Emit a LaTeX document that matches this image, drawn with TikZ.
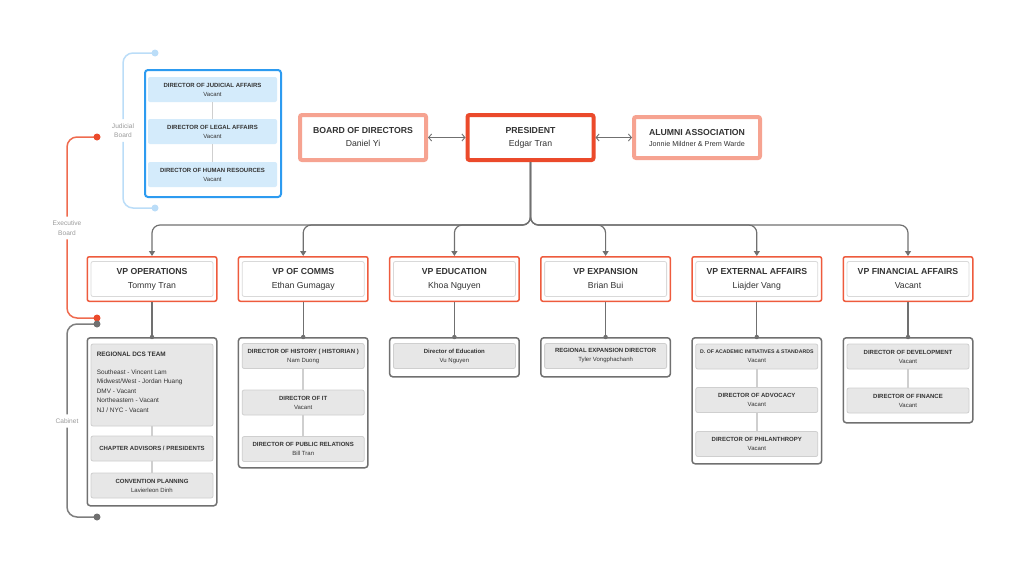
\documentclass[tikz,border=0pt]{standalone}
\usepackage{fontspec}
\setmainfont{Liberation Sans}
\usetikzlibrary{arrows.meta}
\definecolor{presred}{HTML}{EB4A2B}
\definecolor{vpred}{HTML}{EE5B3D}
\definecolor{salmon}{HTML}{F6A391}
\definecolor{jblue}{HTML}{2D9BF0}
\definecolor{jfill}{HTML}{D4EBFB}
\definecolor{jline}{HTML}{BBDDF8}
\definecolor{exred}{HTML}{EF6B4F}
\definecolor{darkline}{HTML}{707070}
\definecolor{boxgray}{HTML}{E7E7E7}
\definecolor{boxedge}{HTML}{CFCFCF}
\definecolor{ink}{HTML}{333333}
\definecolor{labelgray}{HTML}{9A9A9A}
\tikzset{
  every node/.style={text=ink},
  topbox/.style={draw=salmon, line width=4pt, rounded corners=2pt, fill=white,
    minimum width=126pt, minimum height=45pt, align=center,
    font=\fontsize{8.7}{13}\selectfont},
  presbox/.style={topbox, draw=presred},
  vpbox/.style={draw=vpred, line width=1.5pt, rounded corners=2pt, fill=white,
    minimum width=129.5pt, minimum height=44.5pt},
  vpinner/.style={draw=boxedge!80, line width=0.8pt, rounded corners=2pt,
    minimum width=122pt, minimum height=35pt, align=center,
    font=\fontsize{8.7}{14}\selectfont},
  teambox/.style={draw=darkline, line width=1.5pt, rounded corners=3pt, fill=white,
    minimum width=129.5pt, anchor=north},
  teamitem/.style={draw=boxedge, line width=0.8pt, rounded corners=2pt, fill=boxgray,
    minimum width=122pt, minimum height=25pt, align=center, inner sep=1pt,
    font=\fontsize{6}{9}\selectfont},
  jbox/.style={draw=jblue, line width=2pt, rounded corners=3pt, fill=white,
    minimum width=136pt, minimum height=127pt},
  jitem/.style={teamitem, draw=none, fill=jfill, minimum width=129pt},
  innerlink/.style={draw=boxedge, line width=1.5pt},
  trunk/.style={draw=darkline, line width=1.2pt, rounded corners=8pt,
    -{Triangle[width=6pt,length=5pt]}},
  droplink/.style={draw=darkline, line width=1.3pt},
  link/.style={draw=darkline, line width=0.9pt,
    {Straight Barb[length=3pt,width=7pt]}-{Straight Barb[length=3pt,width=7pt]}},
  brk/.style={line width=1.5pt, rounded corners=10pt},
  brklabel/.style={align=center, inner sep=4pt, text=labelgray,
    font=\fontsize{6.6}{9.5}\selectfont}
}
\begin{document}
\begin{tikzpicture}[x=1pt,y=-1pt]
\useasboundingbox (0,0) rectangle (1024,570);

% top row
\node[presbox] (pres) at (530.5,137.5) {\bfseries PRESIDENT\\Edgar Tran};
\node[topbox] (board) at (363,137.5) {\bfseries BOARD OF DIRECTORS\\Daniel Yi};
\node[topbox, minimum height=41pt] (alumni) at (697,137.5)
  {\bfseries ALUMNI ASSOCIATION\\[-2pt]\fontsize{7.2}{9}\selectfont Jonnie Mildner \& Prem Warde};
\draw[link] (board) -- (pres);
\draw[link] (pres) -- (alumni);

% vice presidents
\foreach \n/\x/\t/\p in {vpops/152/VP OPERATIONS/Tommy Tran,
    vpcomms/303.2/VP OF COMMS/Ethan Gumagay,
    vpedu/454.4/VP EDUCATION/Khoa Nguyen,
    vpexp/605.6/VP EXPANSION/Brian Bui,
    vpext/756.8/VP EXTERNAL AFFAIRS/Liajder Vang,
    vpfin/908/VP FINANCIAL AFFAIRS/Vacant}{
  \node[vpbox] (\n) at (\x,279) {};
  \node[vpinner] at (\n) {\textbf{\t}\\\p};
  \draw[trunk] (pres.south) -- ++(0,63) -| (\n.north);
}

% teams
\node[teambox, minimum height=168pt] (tops) at (152,337) {};
\node[teambox, minimum height=130pt] (tcomms) at (303.2,337) {};
\node[teambox, minimum height=39pt] (tedu) at (454.4,337) {};
\node[teambox, minimum height=39pt] (texp) at (605.6,337) {};
\node[teambox, minimum height=126pt] (text) at (756.8,337) {};
\node[teambox, minimum height=85pt] (tfin) at (908,337) {};
\foreach \v/\t in {vpops/tops, vpcomms/tcomms, vpedu/tedu, vpexp/texp, vpext/text, vpfin/tfin}{
  \draw[droplink] (\v) -- (\t.north);
  \fill[darkline] (\t.north) circle (2.2pt);
}

% operations
\node[teamitem, minimum height=82pt] (dcs) at (152,385) {};
\node[anchor=north west, align=left, inner sep=0pt, font=\fontsize{6.4}{9.5}\selectfont]
  (dcstext) at ([shift={(6,8)}]dcs.north west)
  {\textbf{REGIONAL DCS TEAM}\\[8.5pt]
   Southeast - Vincent Lam\\
   Midwest/West - Jordan Huang\\
   DMV - Vacant\\
   Northeastern - Vacant\\
   NJ / NYC - Vacant};
\node[teamitem] (chapter) at (152,448.5) {\textbf{CHAPTER ADVISORS / PRESIDENTS}};
\node[teamitem] (conv) at (152,485.5) {\textbf{CONVENTION PLANNING}\\Lavierleon Dinh};
\draw[innerlink] (dcs) -- (chapter);
\draw[innerlink] (chapter) -- (conv);

% comms
\node[teamitem] (history) at (303.2,356) {\textbf{DIRECTOR OF HISTORY ( HISTORIAN )}\\Nam Duong};
\node[teamitem] (dirit) at (303.2,402.5) {\textbf{DIRECTOR OF IT}\\Vacant};
\node[teamitem] (pubrel) at (303.2,449) {\textbf{DIRECTOR OF PUBLIC RELATIONS}\\Bill Tran};
\draw[innerlink] (history) -- (dirit);
\draw[innerlink] (dirit) -- (pubrel);

% education, expansion
\node[teamitem] (diredu) at (454.4,356) {\textbf{Director of Education}\\Vu Nguyen};
\node[teamitem] (direxp) at (605.6,356) {\textbf{REGIONAL EXPANSION DIRECTOR}\\Tyler Vongphachanh};

% external affairs
\node[teamitem] (academic) at (756.8,356.5)
  {\fontsize{5.2}{9}\selectfont\textbf{D. OF ACADEMIC INITIATIVES \& STANDARDS}\\\fontsize{6}{9}\selectfont Vacant};
\node[teamitem] (advocacy) at (756.8,400) {\textbf{DIRECTOR OF ADVOCACY}\\Vacant};
\node[teamitem] (philan) at (756.8,444) {\textbf{DIRECTOR OF PHILANTHROPY}\\Vacant};
\draw[innerlink] (academic) -- (advocacy);
\draw[innerlink] (advocacy) -- (philan);

% financial affairs
\node[teamitem] (develop) at (908,356.5) {\textbf{DIRECTOR OF DEVELOPMENT}\\Vacant};
\node[teamitem] (finance) at (908,400.5) {\textbf{DIRECTOR OF FINANCE}\\Vacant};
\draw[innerlink] (develop) -- (finance);

% judicial board
\node[jbox] (jboard) at (213,133.5) {};
\node[jitem] (judicial) at (212.5,89.5) {\textbf{DIRECTOR OF JUDICIAL AFFAIRS}\\Vacant};
\node[jitem] (legal) at (212.5,131.5) {\textbf{DIRECTOR OF LEGAL AFFAIRS}\\Vacant};
\node[jitem] (human) at (212.5,174.5) {\textbf{DIRECTOR OF HUMAN RESOURCES}\\Vacant};
\draw[innerlink] (judicial) -- (legal);
\draw[innerlink] (legal) -- (human);

% brackets
\coordinate (jtop) at (155,53);
\coordinate (jbot) at (155,208);
\node[brklabel] (jlab) at (123,130.5) {Judicial\\Board};
\draw[brk, jline] (jtop) -| (jlab.north);
\draw[brk, jline] (jlab.south) |- (jbot);
\fill[jline] (jtop) circle (3.5pt) (jbot) circle (3.5pt);

\coordinate (extop) at (97,137);
\coordinate (exbot) at (97,318);
\node[brklabel] (exlab) at (67,228) {Executive\\Board};
\draw[brk, exred] (extop) -| (exlab.north);
\draw[brk, exred] (exlab.south) |- (exbot);
\fill[presred] (extop) circle (3.5pt) (exbot) circle (3.5pt);

\coordinate (cabtop) at (97,324);
\coordinate (cabbot) at (97,517);
\node[brklabel] (cablab) at (67,421) {Cabinet};
\draw[brk, darkline!90] (cabtop) -| (cablab.north);
\draw[brk, darkline!90] (cablab.south) |- (cabbot);
\fill[darkline] (cabtop) circle (3.5pt) (cabbot) circle (3.5pt);
\end{tikzpicture}
\end{document}
